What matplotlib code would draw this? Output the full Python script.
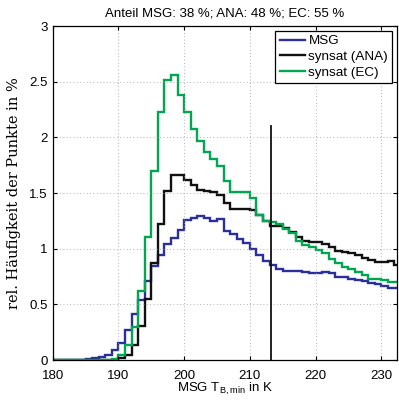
import numpy as np
import matplotlib
matplotlib.use("Agg")
import matplotlib.pyplot as plt

# Histogram bin edges (1 K bins) of MSG minimum brightness temperature
bin_edges = np.arange(180, 234, 1)

# Relative frequency in % per bin, bins 180..232 K
msg = [0, 0, 0, 0.002, 0.003, 0.01, 0.015, 0.03, 0.05, 0.09,
       0.155, 0.27, 0.41, 0.54, 0.71, 0.845, 0.94, 1.04, 1.10, 1.17,
       1.26, 1.28, 1.29, 1.28, 1.25, 1.27, 1.16, 1.13, 1.09, 1.05,
       1.00, 0.94, 0.89, 0.85, 0.82, 0.80, 0.80, 0.80, 0.79, 0.785,
       0.785, 0.79, 0.78, 0.75, 0.75, 0.73, 0.72, 0.71, 0.69, 0.685,
       0.665, 0.65, 0.645]
ana = [0, 0, 0, 0, 0, 0, 0, 0, 0.003, 0.005,
       0.02, 0.045, 0.14, 0.31, 0.55, 0.875, 1.22, 1.52, 1.66, 1.66,
       1.62, 1.57, 1.53, 1.52, 1.51, 1.48, 1.41, 1.36, 1.36, 1.36,
       1.35, 1.30, 1.25, 1.20, 1.20, 1.19, 1.15, 1.11, 1.07, 1.06,
       1.06, 1.04, 1.02, 0.98, 0.97, 0.96, 0.94, 0.92, 0.90, 0.88,
       0.88, 0.89, 0.85]
ec = [0, 0, 0, 0, 0, 0, 0, 0, 0, 0.01,
      0.05, 0.135, 0.30, 0.62, 1.11, 1.70, 2.225, 2.52, 2.56, 2.38,
      2.225, 2.08, 1.97, 1.87, 1.81, 1.74, 1.61, 1.51, 1.51, 1.51,
      1.46, 1.30, 1.25, 1.24, 1.22, 1.18, 1.14, 1.07, 1.03, 1.02,
      0.99, 0.96, 0.91, 0.87, 0.84, 0.82, 0.79, 0.76, 0.73, 0.73,
      0.72, 0.70, 0.70]

series_labels = ["MSG", "synsat (ANA)", "synsat (EC)"]
threshold_T = 213.3
threshold_top = 2.1
title = "Anteil MSG: 38 %; ANA: 48 %; EC: 55 %"

plt.rcParams["font.family"] = ["Liberation Sans", "DejaVu Sans"]

fig = plt.figure(figsize=(3.99, 4.01), dpi=100)
ax = fig.add_axes([0.132, 0.102, 0.863, 0.833])

colors = ["#2a2f9c", "#111111", "#00a650"]
for vals, lab, col in zip([msg, ana, ec], series_labels, colors):
    ax.stairs(vals, bin_edges, color=col, lw=1.7, label=lab, baseline=None)

ax.plot([threshold_T, threshold_T], [0, threshold_top], color="#111111", lw=1.3)

ax.set_xlim(180, 232.4)
ax.set_ylim(0, 3)
ax.set_xticks([180, 190, 200, 210, 220, 230])
ax.set_yticks([0, 0.5, 1, 1.5, 2, 2.5, 3])
ax.set_yticklabels(["0", "0.5", "1", "1.5", "2", "2.5", "3"])
ax.grid(True, linestyle=(0, (1, 3)), color="#999999", lw=0.6)
ax.tick_params(direction="in", labelsize=9.5, top=True, right=True, length=3)
ax.tick_params(axis="x", pad=7)
for s in ax.spines.values():
    s.set_linewidth(0.9)

ax.set_xlabel(r"MSG T$_\mathregular{B,min}$ in K", fontsize=9.5, labelpad=-1)
ax.set_ylabel("rel. Häufigkeit der Punkte in %", fontsize=10.5,
              family=["DejaVu Serif"], labelpad=6)
ax.set_title(title, fontsize=9.5, pad=7)

leg = ax.legend(loc="upper right", fontsize=9.7, handlelength=1.9,
                handletextpad=0.25, borderpad=0.3, labelspacing=0.25,
                fancybox=False, framealpha=1, edgecolor="black",
                borderaxespad=0.35)
leg.get_frame().set_linewidth(0.9)

fig.savefig("out.png", dpi=100)
